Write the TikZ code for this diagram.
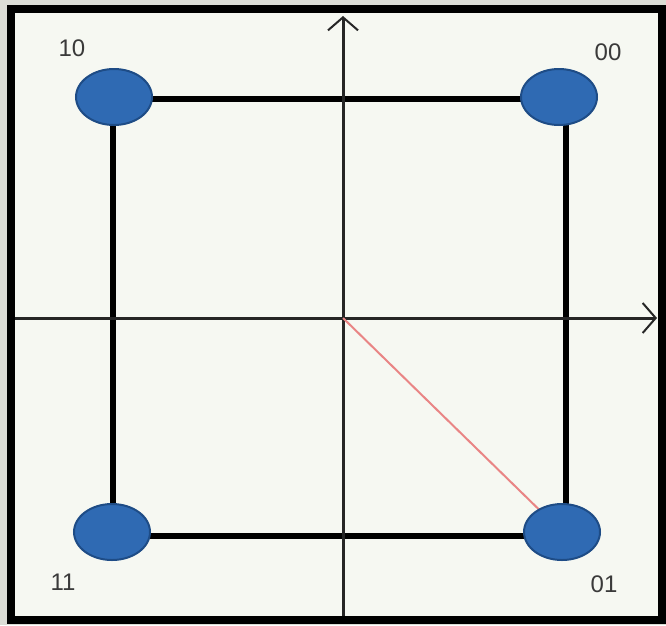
\documentclass[tikz,border=0pt]{standalone}
\usepackage{fontspec}
\setmainfont{Liberation Sans}
\usetikzlibrary{arrows.meta,shapes.geometric}
\definecolor{bgout}{HTML}{DCDDD6}
\definecolor{bgin}{HTML}{F6F8F2}
\definecolor{dotblue}{HTML}{2F6AB3}
\definecolor{dotedge}{HTML}{1E4C86}
\definecolor{redline}{HTML}{E98585}
\definecolor{lbl}{HTML}{3A3A3A}
\tikzset{
  dot/.style={ellipse, draw=dotedge, line width=2pt, fill=dotblue, minimum width=76pt, minimum height=56pt, inner sep=0pt},
  side/.style={line width=6pt, black},
  axis/.style={line width=3pt, black!85, -{Straight Barb[length=13pt,width=30pt,line width=2pt]}},
  lab/.style={font=\fontsize{24}{24}\selectfont, text=lbl}
}
\begin{document}
\begin{tikzpicture}[x=1pt,y=-1pt]
\useasboundingbox (0,0) rectangle (666,625);
\fill[bgout] (0,0) rectangle (666,625);
\fill[bgin] (11,9) rectangle (662,620);
\coordinate (ax0) at (343,620);
\coordinate (ax1) at (343,16);
\coordinate (ay0) at (11,318);
\coordinate (ay1) at (657,318);
\coordinate (o) at (343,318);
\coordinate (c10) at (114,97);
\coordinate (c00) at (559,97);
\coordinate (c11) at (112,532);
\coordinate (c01) at (562,532);
\coordinate (t1) at (114,99);
\coordinate (t2) at (559,99);
\coordinate (b1) at (112,536);
\coordinate (b2) at (562,536);
\coordinate (l1) at (113,99);
\coordinate (l2) at (113,536);
\coordinate (r1) at (566,99);
\coordinate (r2) at (566,536);
\draw[side] (t1) -- (t2);
\draw[side] (b1) -- (b2);
\draw[side] (l1) -- (l2);
\draw[side] (r1) -- (r2);
\draw[axis] (ax0) -- (ax1);
\draw[axis] (ay0) -- (ay1);
\draw[redline, line width=2pt] (o) -- (c01);
\node[dot] (n10) at (c10) {};
\node[dot] (n00) at (c00) {};
\node[dot] (n11) at (c11) {};
\node[dot] (n01) at (c01) {};
\node[lab] (t10) at (72,48) {10};
\node[lab] (t00) at (608,52) {00};
\node[lab] (t11) at (63,582) {11};
\node[lab] (t01) at (604,584) {01};
\draw[line width=8pt, black] (11,9) rectangle (662,620);
\end{tikzpicture}
\end{document}
